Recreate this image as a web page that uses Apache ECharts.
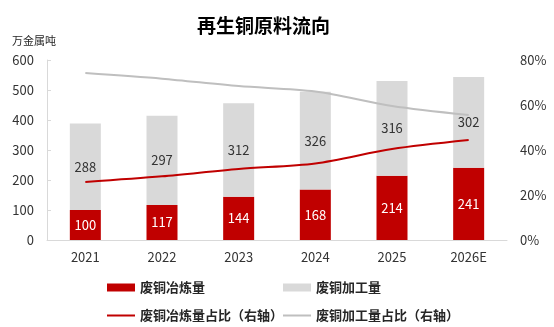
<!DOCTYPE html>
<html><head><meta charset="utf-8">
<script src="https://cdn.jsdelivr.net/npm/echarts@6/dist/echarts.min.js"></script>
<style>html,body{margin:0;padding:0;background:#fff}#c{width:554px;height:327px}</style>
</head><body><div id="c"></div>
<script>
const categories = ['2021','2022','2023','2024','2025','2026E'];
const smelting = [100,117,144,168,214,241];
const processing = [288,297,312,326,316,302];
const smeltingShare = [25.8,28.3,31.6,34.0,40.4,44.4];
const processingShare = [74.2,71.7,68.4,66.0,59.6,55.6];
const leftTicks = {min:0,max:600,interval:100};
const rightTicks = {min:0,max:80,interval:20};

const FONT = '"Noto Sans CJK SC","Noto Sans",sans-serif';
const chart = echarts.init(document.getElementById('c'));
const names = ['废铜冶炼量','废铜加工量','废铜冶炼量占比（右轴）','废铜加工量占比（右轴）'];
function lg(name, left, top, h){
  return {data:[name], left:left, top:top, padding:0, itemWidth:28, itemHeight:h, icon:'rect',
    textStyle:{fontFamily:FONT,fontSize:13,fontWeight:'bold',color:'#262626'}, selectedMode:false};
}
chart.setOption({
  animation:false,
  textStyle:{fontFamily:FONT},
  title:{text:'再生铜原料流向', left:197, top:16, padding:0, textStyle:{fontFamily:FONT,fontSize:19,fontWeight:'bold',color:'#000'}},
  graphic:[{type:'text', left:12, top:35, style:{text:'万金属吨', font:'11px '+FONT, fill:'#262626'}}],
  grid:{left:47, right:47, top:60, bottom:87},
  legend:[lg(names[0],107,281,8), lg(names[1],283,281,8), lg(names[2],107,309,2), lg(names[3],283,309,2)],
  xAxis:{type:'category', data:categories,
    axisLine:{lineStyle:{color:'#d9d9d9'}}, axisTick:{show:false},
    axisLabel:{color:'#333',fontSize:13,margin:11}},
  yAxis:[
    {type:'value', min:leftTicks.min, max:leftTicks.max, interval:leftTicks.interval,
     axisLine:{show:true,lineStyle:{color:'#d9d9d9'}}, axisTick:{show:true,inside:true,length:4,lineStyle:{color:'#d9d9d9'}},
     splitLine:{show:false}, axisLabel:{color:'#333',fontSize:13,margin:13}},
    {type:'value', min:rightTicks.min, max:rightTicks.max, interval:rightTicks.interval,
     axisLine:{show:false}, axisTick:{show:false}, splitLine:{show:false},
     axisLabel:{color:'#333',fontSize:13,margin:13,formatter:'{value}%'}}
  ],
  series:[
    {name:names[0], type:'bar', stack:'a', data:smelting, barWidth:31, itemStyle:{color:'#c00000'},
     label:{show:true,position:'inside',color:'#fff',fontSize:13}},
    {name:names[1], type:'bar', stack:'a', data:processing, barWidth:31, itemStyle:{color:'#d9d9d9'},
     label:{show:true,position:'inside',color:'#333',fontSize:13}},
    {name:names[2], type:'line', yAxisIndex:1, data:smeltingShare, smooth:0.3, showSymbol:false,
     lineStyle:{color:'#c00000',width:2}, itemStyle:{color:'#c00000'}},
    {name:names[3], type:'line', yAxisIndex:1, data:processingShare, smooth:0.3, showSymbol:false,
     lineStyle:{color:'#bfbfbf',width:2}, itemStyle:{color:'#bfbfbf'}}
  ]
});
</script></body></html>
